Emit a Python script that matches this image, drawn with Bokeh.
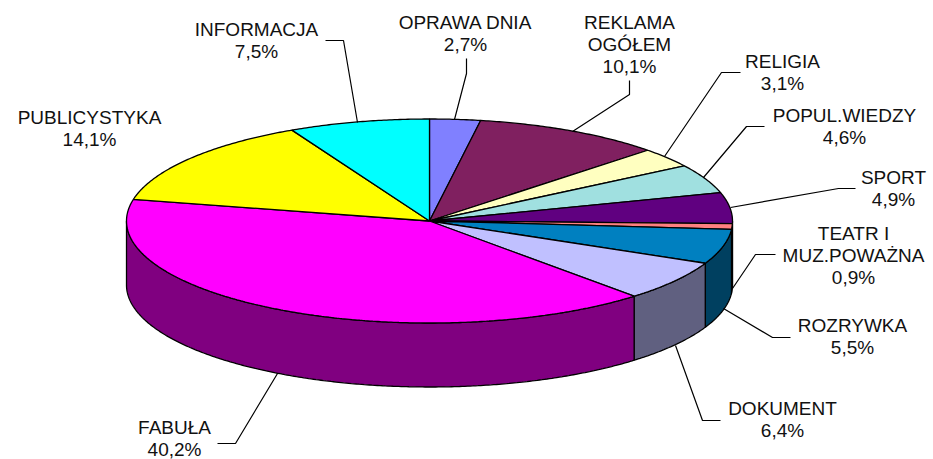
import numpy as np
from bokeh.core.properties import value
from bokeh.embed import file_html
from bokeh.models import Range1d
from bokeh.plotting import figure
from bokeh.resources import INLINE

names = ["OPRAWA DNIA", "REKLAMA OGÓŁEM", "RELIGIA", "POPUL.WIEDZY", "SPORT",
         "TEATR I MUZ.POWAŻNA", "ROZRYWKA", "DOKUMENT", "FABUŁA", "PUBLICYSTYKA", "INFORMACJA"]
shares = [2.7, 10.1, 3.1, 4.6, 4.9, 0.9, 5.5, 6.4, 40.2, 14.1, 7.5]
top_colors = ["#8080ff", "#802060", "#ffffc0", "#a0e0e0", "#600080", "#ff8080",
              "#0080c0", "#c0c0ff", "#ff00ff", "#ffff00", "#00ffff"]
side_colors = ["#404080", "#401030", "#808060", "#507070", "#300040", "#804040",
               "#004060", "#606080", "#800080", "#808000", "#008080"]

# Layout, in the reference image's pixels
CX, CY, RX, RY, DEPTH = 429, 220.5, 303, 102, 64
FONT = "Liberation Sans"
FS = "19px"
LINE_H = 22

label_lines = {
    "OPRAWA DNIA": (["OPRAWA DNIA"], 465, 22),
    "REKLAMA OGÓŁEM": (["REKLAMA", "OGÓŁEM"], 629, 22),
    "RELIGIA": (["RELIGIA"], 782, 61),
    "POPUL.WIEDZY": (["POPUL.WIEDZY"], 844, 115),
    "SPORT": (["SPORT"], 893, 177),
    "TEATR I MUZ.POWAŻNA": (["TEATR I", "MUZ.POWAŻNA"], 853, 233),
    "ROZRYWKA": (["ROZRYWKA"], 852, 325),
    "DOKUMENT": (["DOKUMENT"], 782, 408),
    "FABUŁA": (["FABUŁA"], 174, 427),
    "PUBLICYSTYKA": (["PUBLICYSTYKA"], 89, 117),
    "INFORMACJA": (["INFORMACJA"], 256, 29),
}
leaders = {
    "OPRAWA DNIA": ([466, 466, 454], [58, 73, 119]),
    "REKLAMA OGÓŁEM": ([629, 629, 572], [80, 94, 131]),
    "RELIGIA": ([740, 721, 664], [72, 72, 156]),
    "POPUL.WIEDZY": ([764, 746, 703], [126, 126, 177]),
    "SPORT": ([855, 838, 730], [188, 188, 207]),
    "TEATR I MUZ.POWAŻNA": ([775, 755, 732], [254, 254, 288]),
    "ROZRYWKA": ([790, 772, 723], [337, 337, 308]),
    "DOKUMENT": ([720, 702, 675], [420, 420, 345]),
    "FABUŁA": ([217, 235, 277], [443, 443, 373]),
    "PUBLICYSTYKA": ([], []),
    "INFORMACJA": ([325, 343, 357], [40, 40, 122]),
}

p = figure(width=933, height=459, output_backend="svg", toolbar_location=None,
           x_range=Range1d(0, 933), y_range=Range1d(459, 0), min_border=0,
           outline_line_color=None, background_fill_color="white")
p.axis.visible = False
p.grid.visible = False

edges = np.radians(np.concatenate([[0], np.cumsum(shares)]) * 3.6)


def rim(a, b):
    n = max(2, int(np.degrees(b - a) * 2))
    t = np.linspace(a, b, n)
    return CX + RX * np.sin(t), CY - RY * np.cos(t)


# Side wall: only the part of each slice facing the viewer, drawn back to front
for i in range(len(shares)):
    a, b = max(edges[i], np.pi / 2), min(edges[i + 1], 3 * np.pi / 2)
    if b > a:
        x, y = rim(a, b)
        p.patch(np.r_[x, x[::-1]], np.r_[y, y[::-1] + DEPTH],
                fill_color=side_colors[i], line_color="black", line_width=1.3)

# Top faces
for i in range(len(shares)):
    x, y = rim(edges[i], edges[i + 1])
    p.patch(np.r_[CX, x], np.r_[CY, y], fill_color=top_colors[i],
            line_color="black", line_width=1.3)

# Leader lines and labels
for i, name in enumerate(names):
    lx, ly = leaders[name]
    if lx:
        p.line(lx, ly, line_color="black", line_width=1.2)
    lines, tx, ty = label_lines[name]
    texts = lines + [f"{shares[i]:.1f}%".replace(".", ",")]
    p.text([tx] * len(texts), [ty + k * LINE_H for k in range(len(texts))], text=texts,
           text_font=value(FONT), text_font_size=value(FS), text_color="#111111",
           text_align="center", text_baseline="middle")

open("out.html", "w").write(file_html(p, INLINE))
